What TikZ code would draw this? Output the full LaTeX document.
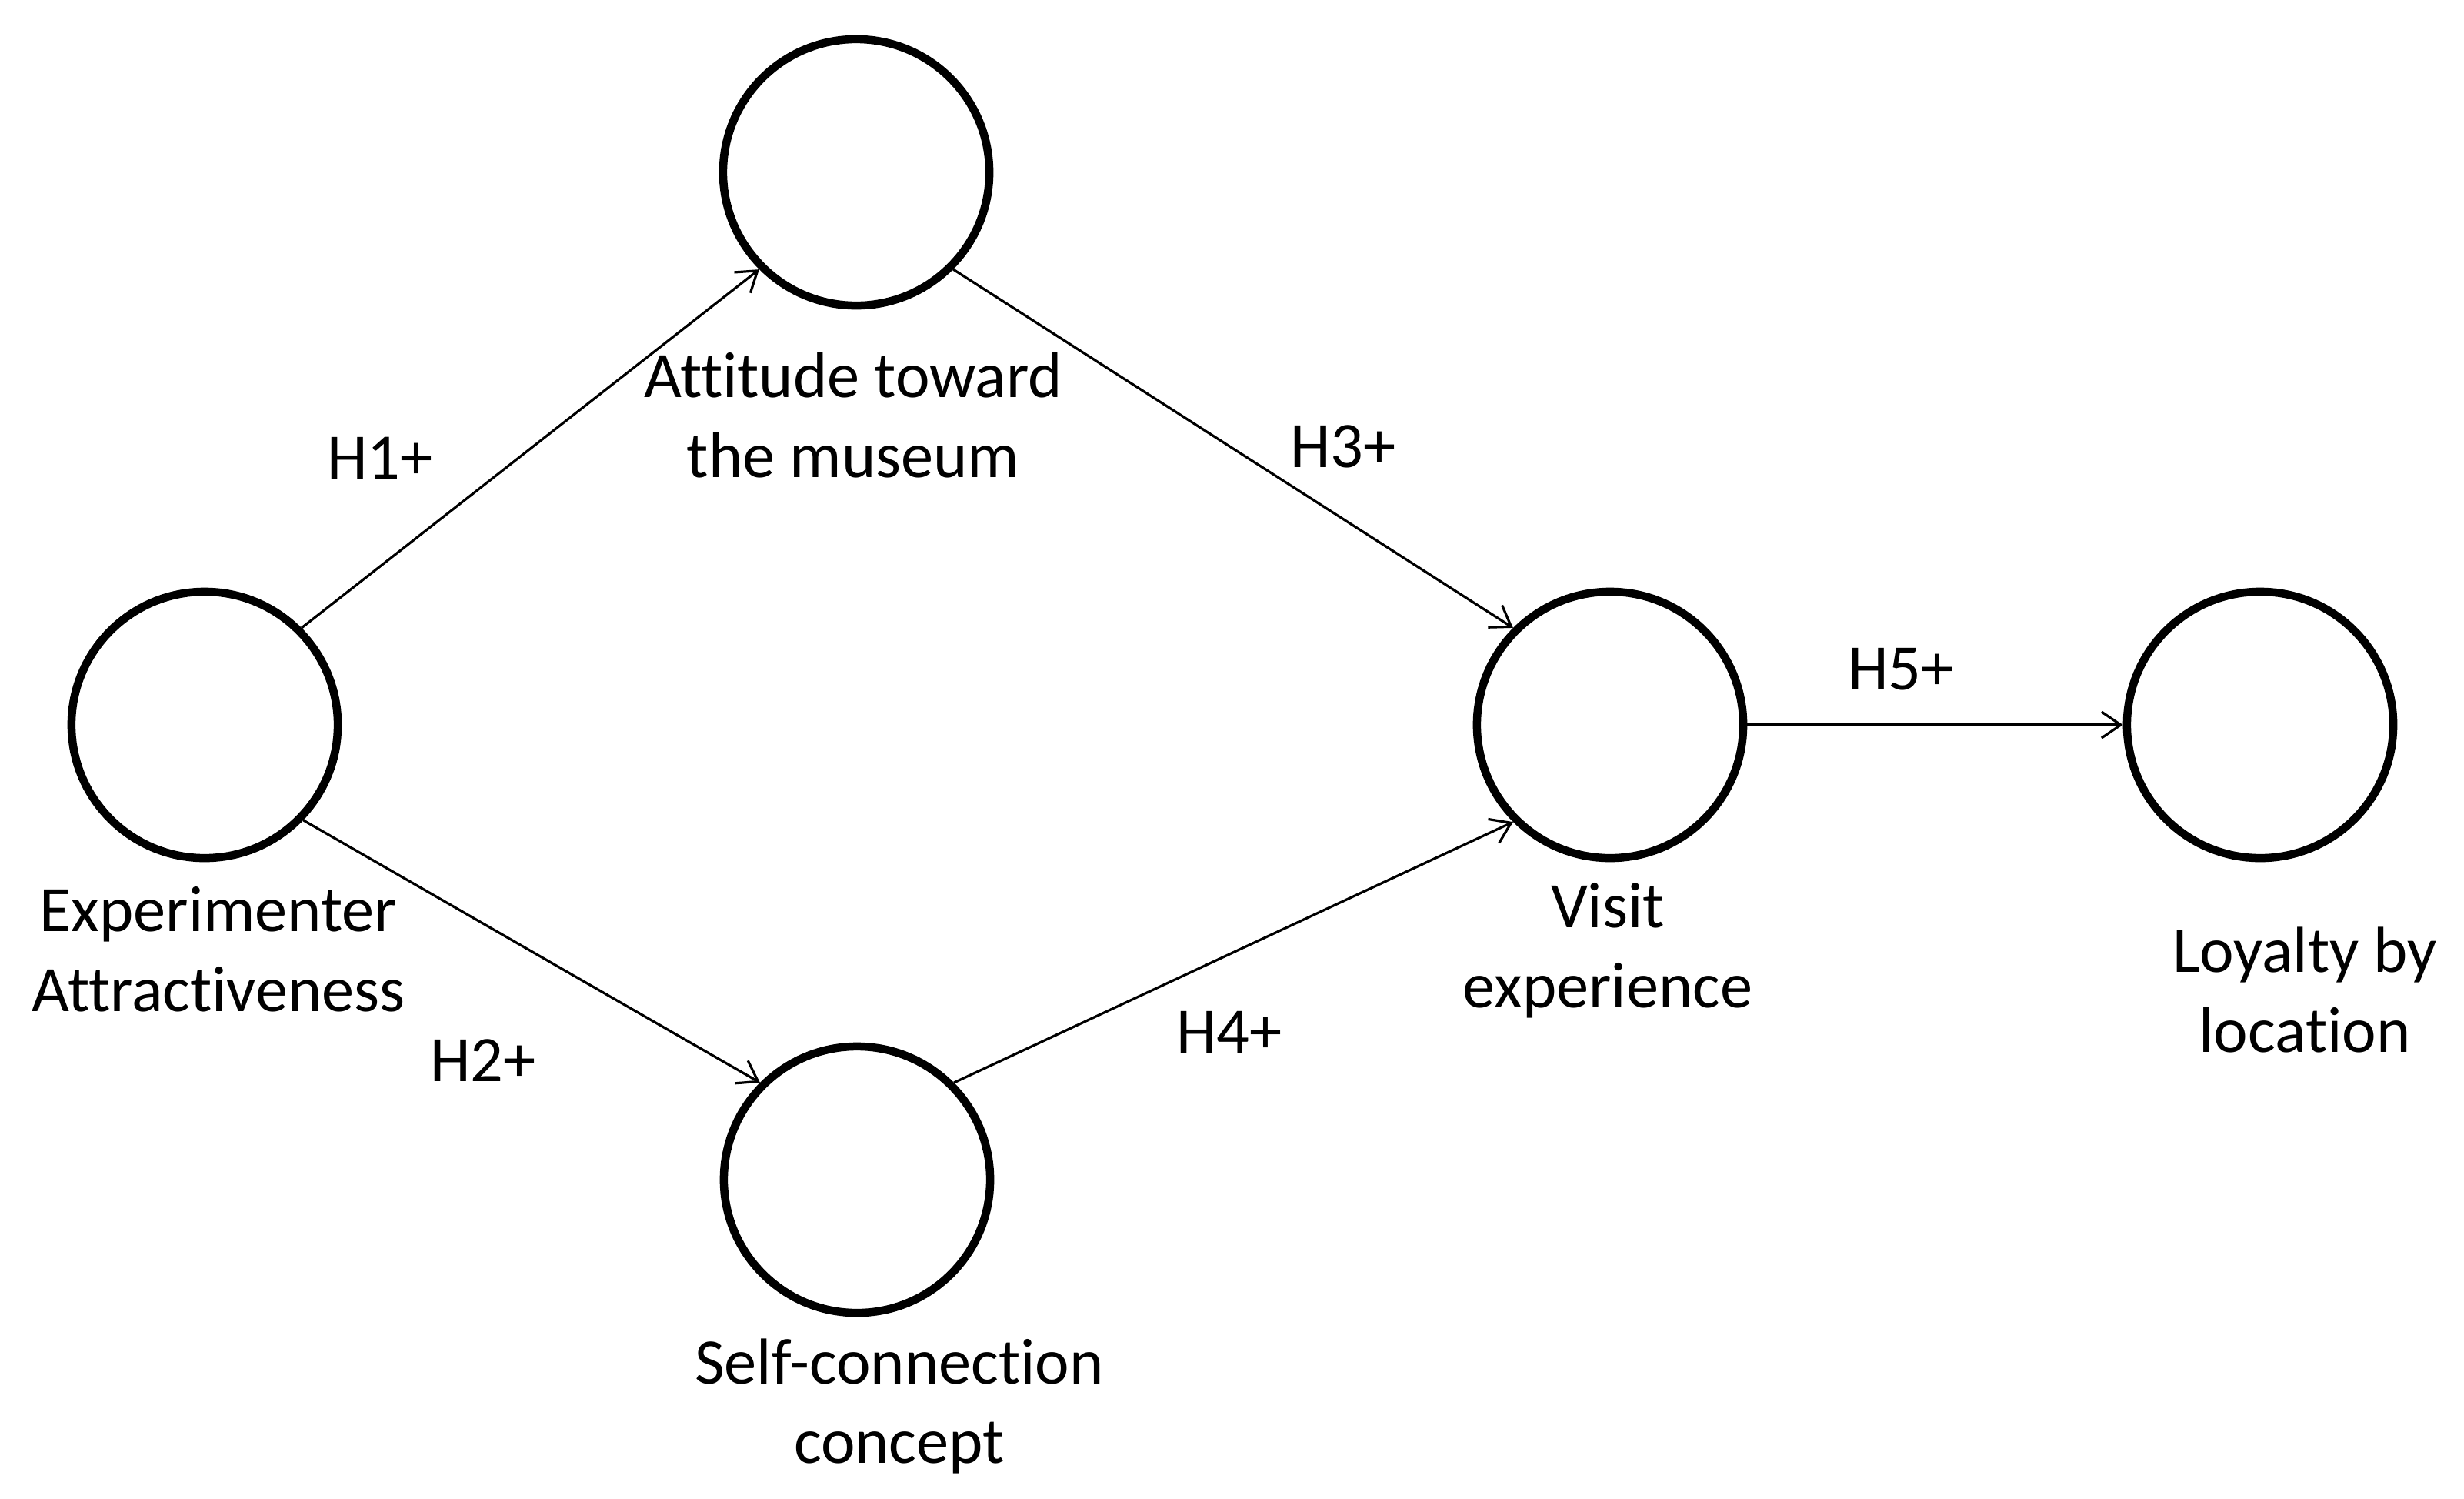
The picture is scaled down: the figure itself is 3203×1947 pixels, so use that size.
\documentclass[tikz,border=0pt]{standalone}
\usepackage{fontspec}
\setmainfont{Carlito}[Ligatures=NoCommon]
\usetikzlibrary{arrows.meta}
\begin{document}
\begin{tikzpicture}[x=0.01cm,y=-0.01cm,
  latent/.style={circle,draw=black,line width=0.105cm,minimum size=3.46cm,inner sep=0pt},
  lbl/.style={font=\fontsize{24pt}{29.3pt}\selectfont,align=center,anchor=base,inner sep=0pt},
  hyp/.style={font=\fontsize{24pt}{29.3pt}\selectfont,anchor=base,inner sep=0pt},
  path/.style={line width=0.032cm,-{Straight Barb[length=0.25cm,width=0.34cm,line width=0.032cm]}}]
\path[use as bounding box,fill=white] (0,0) rectangle (3203,1947);
\node[latent] (exp) at (266,942) {};
\node[latent] (att) at (1113,224) {};
\node[latent] (self) at (1114,1533) {};
\node[latent] (vis) at (2093,942) {};
\node[latent] (loy) at (2938,942) {};
\node[lbl] (lexp) at (284,1314) {Experimenter\\Attractiveness};
\node[lbl] (latt) at (1109,620) {Attitude toward\\the museum};
\node[lbl] (lself) at (1169,1901) {Self-connection\\concept};
\node[lbl] (lvis) at (2090,1309) {Visit\\experience};
\node[lbl] (lloy) at (2996,1367) {Loyalty by\\location};
\draw[path] (exp.45) -- (att.-135);
\draw[path] (exp.-44) -- (self.135);
\draw[path] (att.-45) -- (vis.135);
\draw[path] (self.45) -- (vis.-135);
\draw[path] (vis.east) -- (loy.west);
\node[hyp] (h1) at (494,622) {H1+};
\node[hyp] (h2) at (628,1405) {H2+};
\node[hyp] (h3) at (1746,607) {H3+};
\node[hyp] (h4) at (1598,1368) {H4+};
\node[hyp] (h5) at (2471,896) {H5+};
\end{tikzpicture}
\end{document}
